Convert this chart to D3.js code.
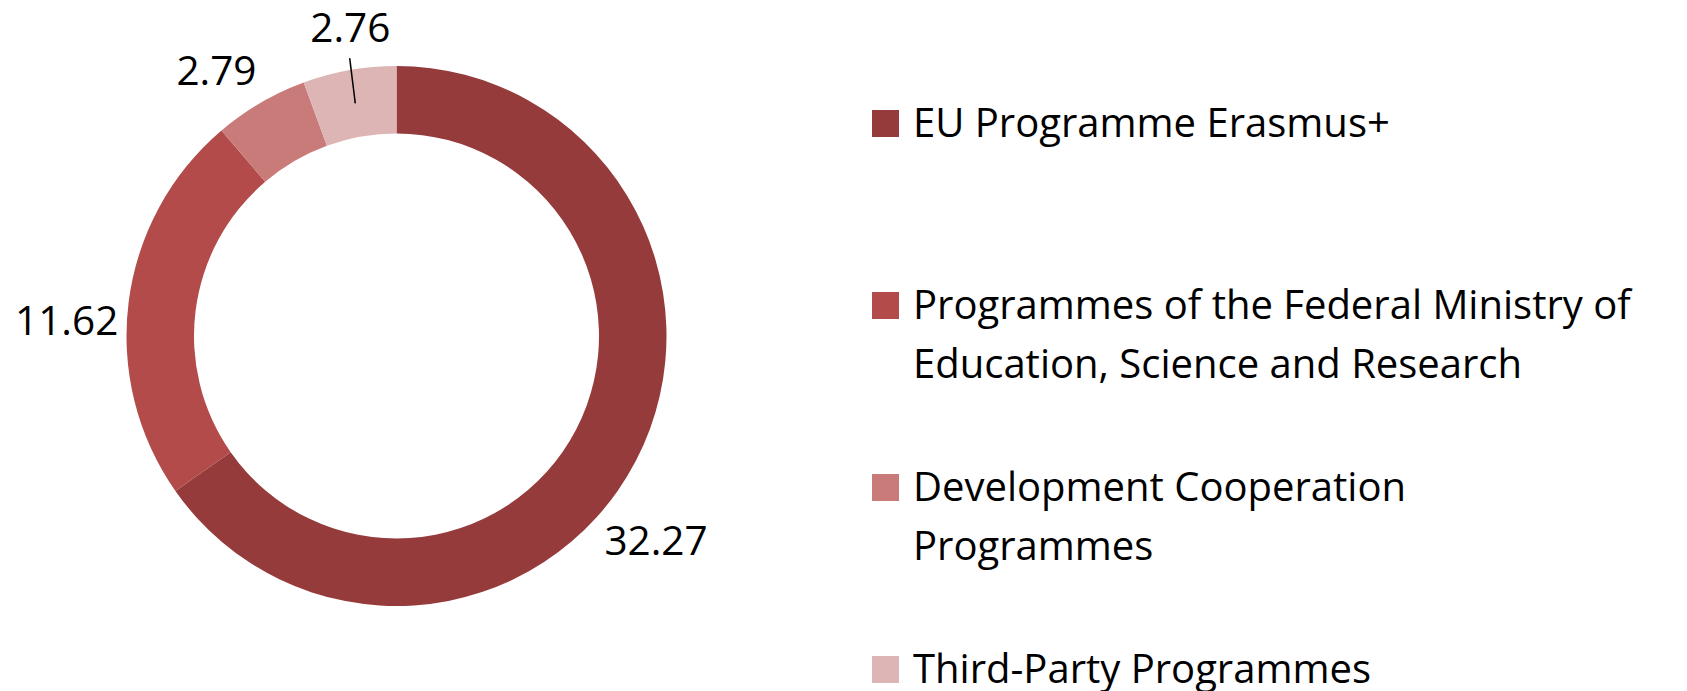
<!DOCTYPE html>
<html>
<head>
<meta charset="utf-8">
<script src="https://cdn.jsdelivr.net/npm/d3@7"></script>
<style>
  html, body { margin: 0; padding: 0; background: #fff; }
  svg { display: block; }
  text { font-family: "Open Sans", "Noto Sans", sans-serif; fill: #000; }
</style>
</head>
<body>
<svg id="chart" width="1687" height="691"></svg>
<script>
// ---- data ----
const categories = [
  "EU Programme Erasmus+",
  "Programmes of the Federal Ministry of\nEducation, Science and Research",
  "Development Cooperation\nProgrammes",
  "Third-Party Programmes"
];
const values = [32.27, 11.62, 2.79, 2.76];
const valueLabels = ["32.27", "11.62", "2.79", "2.76"];
const colors = ["#963b3b", "#b24b49", "#c97b7a", "#ddb5b5"];

// ---- layout ----
const W = 1687, H = 691;
const cx = 396.5, cy = 336;
const outerR = 270, innerR = 202.5;
const labelOffsets = [[20, 80], [-62, 19], [-44, -32], [1, -43]]; // from outer mid-point
const leaderFor = [false, false, false, true];
const legendX = 913, swatch = 27, legendFirstBaseline = 137, legendStep = 182, lineH = 59;
const fontSize = 40, labelFont = 40.5;

const svg = d3.select("#chart");

const pie = d3.pie().sort(null).value(d => d);
const arcs = pie(values);
const arc = d3.arc().innerRadius(innerR).outerRadius(outerR);
const outerArc = d3.arc().innerRadius(outerR).outerRadius(outerR);

const color = d3.scaleOrdinal().domain(d3.range(values.length)).range(colors);

const g = svg.append("g").attr("transform", `translate(${cx},${cy})`);

g.selectAll("path.slice")
  .data(arcs)
  .join("path")
  .attr("class", "slice")
  .attr("d", arc)
  .attr("fill", (d, i) => color(i));

// labels
const labelPos = arcs.map((d, i) => {
  const [x, y] = outerArc.centroid(d);
  return [x + labelOffsets[i][0], y + labelOffsets[i][1]];
});

g.selectAll("line.leader")
  .data(arcs.filter((d, i) => leaderFor[i]))
  .join("line")
  .attr("class", "leader")
  .each(function(d) {
    const i = d.index;
    const [x1, y1] = arc.centroid(d);
    const [lx, ly] = labelPos[i];
    d3.select(this)
      .attr("x1", x1).attr("y1", y1)
      .attr("x2", lx - 0.7).attr("y2", ly + 31);
  })
  .attr("stroke", "#000")
  .attr("stroke-width", 1.5);

g.selectAll("text.vlabel")
  .data(arcs)
  .join("text")
  .attr("class", "vlabel")
  .attr("x", (d, i) => labelPos[i][0])
  .attr("y", (d, i) => labelPos[i][1])
  .attr("dy", "0.36em")
  .attr("text-anchor", "middle")
  .attr("font-size", labelFont)
  .text((d, i) => valueLabels[i]);

// legend
const leg = svg.append("g");
const items = leg.selectAll("g.item")
  .data(categories)
  .join("g")
  .attr("class", "item")
  .attr("transform", (d, i) => `translate(0,${legendFirstBaseline + i * legendStep})`);

items.append("rect")
  .attr("x", legendX - 41)
  .attr("y", -swatch)
  .attr("width", swatch)
  .attr("height", swatch)
  .attr("fill", (d, i) => color(i));

items.append("text")
  .attr("font-size", fontSize)
  .selectAll("tspan")
  .data(d => d.split("\n"))
  .join("tspan")
  .attr("x", legendX)
  .attr("y", (d, j) => j * lineH)
  .text(d => d);
</script>
</body>
</html>
